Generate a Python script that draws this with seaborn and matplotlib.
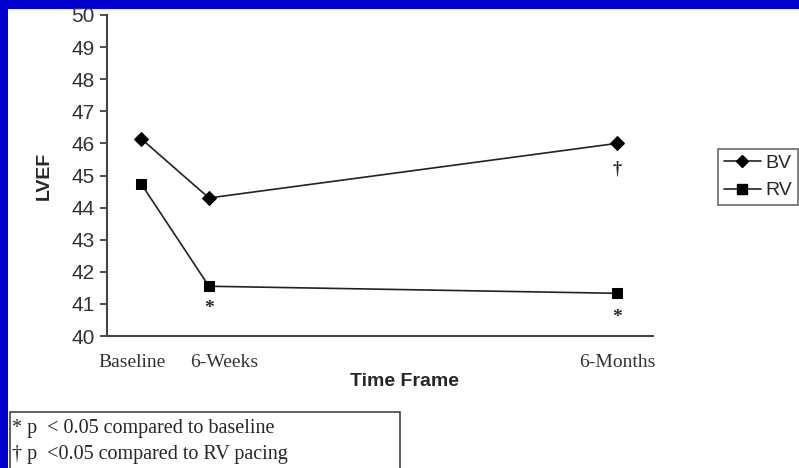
import matplotlib
matplotlib.use("Agg")
import matplotlib.pyplot as plt
import matplotlib.patches as mpatches
import matplotlib.transforms as mtransforms
from matplotlib.lines import Line2D
import seaborn as sns
import pandas as pd

# data
time_labels = ["Baseline", "6-Weeks", "6-Months"]
time_pos = [0, 6, 42]          # spacing of the original x axis
bv_lvef = [46.15, 44.3, 46.0]
rv_lvef = [44.75, 41.55, 41.33]
groups = ["BV", "RV"]

df = pd.DataFrame({
    "Time": time_pos * 2,
    "LVEF": bv_lvef + rv_lvef,
    "Group": [groups[0]] * 3 + [groups[1]] * 3,
})

sns.set_style("white")
plt.rcParams["font.family"] = ["Liberation Sans", "DejaVu Sans"]

fig = plt.figure(figsize=(7.99, 4.68), dpi=100, facecolor="#0000cc")
W, H = 799, 468
# white panel inside the blue frame
fig.patches.append(mpatches.Rectangle((8 / W, 0), 1, 1 - 9 / H, transform=fig.transFigure,
                                      facecolor="white", edgecolor="none", zorder=-5))

ax = fig.add_axes([107 / W, 1 - 336 / H, (653 - 107) / W, (336 - 15) / H])
ax.set_facecolor("none")
ax.set_zorder(2)

sns.lineplot(data=df, x="Time", y="LVEF", hue="Group", style="Group",
             markers={"BV": "D", "RV": "s"}, dashes=False,
             palette={"BV": "black", "RV": "black"}, markersize=7,
             linewidth=1.2, ax=ax, legend=False, markeredgecolor="black")
for ln in ax.lines:
    ln.set_color("#222222")
    ln.set_markerfacecolor("black")

ax.set_xlim(-3, 45.2)
ax.set_ylim(40, 50)
ax.set_yticks(range(40, 51))
ax.tick_params(axis="y", direction="out", length=5, width=1.2, left=True,
               labelsize=15, pad=4, colors="#333333")
ax.set_xticks(time_pos)
ax.set_xticklabels(time_labels, family="Liberation Serif", fontsize=14, color="#333333")
ax.tick_params(axis="x", length=0, pad=13)
# the original labels sit slightly off their points
for lab, dx in zip(ax.get_xticklabels(), [-9, 15, 1]):
    lab.set_transform(lab.get_transform() +
                      mtransforms.ScaledTranslation(dx / 100, 0, fig.dpi_scale_trans))
sns.despine(ax=ax)
for s in ["left", "bottom"]:
    ax.spines[s].set_linewidth(1.5)
    ax.spines[s].set_color("#444444")

ax.set_ylabel("LVEF", fontsize=14, fontweight="bold")
ax.yaxis.set_label_coords(-(107 - 44) / (653 - 107), (336 - 176) / (336 - 15))
ax.set_xlabel("Time Frame", fontsize=14, fontweight="bold")
ax.xaxis.set_label_coords((404 - 107) / (653 - 107), -(382 - 336) / (336 - 15))
ax.xaxis.label.set_va("center")
ax.yaxis.label.set_va("center")

# significance marks
ax.text(time_pos[1], rv_lvef[1] - 0.7, "*", ha="center", va="center", fontsize=14,
        family="Liberation Serif", fontweight="bold")
ax.text(time_pos[2], rv_lvef[2] - 0.75, "*", ha="center", va="center", fontsize=14,
        family="Liberation Serif", fontweight="bold")
ax.text(time_pos[2], bv_lvef[2] - 0.8, "\u2020", ha="center", va="center", fontsize=13,
        family="Liberation Serif", fontweight="bold")

handles = [Line2D([], [], color="#222222", marker="D", markersize=6, lw=1.2,
                  markerfacecolor="black", markeredgecolor="black"),
           Line2D([], [], color="#222222", marker="s", markersize=7, lw=1.2,
                  markerfacecolor="black", markeredgecolor="black")]
leg = fig.legend(handles, groups, loc="upper left", bbox_to_anchor=(708 / W, 1 - 139 / H),
                 fontsize=14, frameon=True, fancybox=False, handlelength=1.9,
                 handletextpad=0.25, borderpad=0.3, labelspacing=0.5)
leg.get_frame().set_edgecolor("#444444")
leg.get_frame().set_linewidth(1.2)

# footnote box
fig.patches.append(mpatches.Rectangle((10 / W, -0.05), (400 - 10) / W, 0.05 + (468 - 412) / H,
                                      transform=fig.transFigure, facecolor="white",
                                      edgecolor="#444444", linewidth=1.2, zorder=1))
fig.text(12 / W, 1 - 428 / H, "* p  < 0.05 compared to baseline", family="Liberation Serif",
         fontsize=14.5, va="center", ha="left")
fig.text(12 / W, 1 - 454 / H, "\u2020 p  <0.05 compared to RV pacing", family="Liberation Serif",
         fontsize=14.5, va="center", ha="left")

fig.savefig("out.png", dpi=100, facecolor=fig.get_facecolor())
